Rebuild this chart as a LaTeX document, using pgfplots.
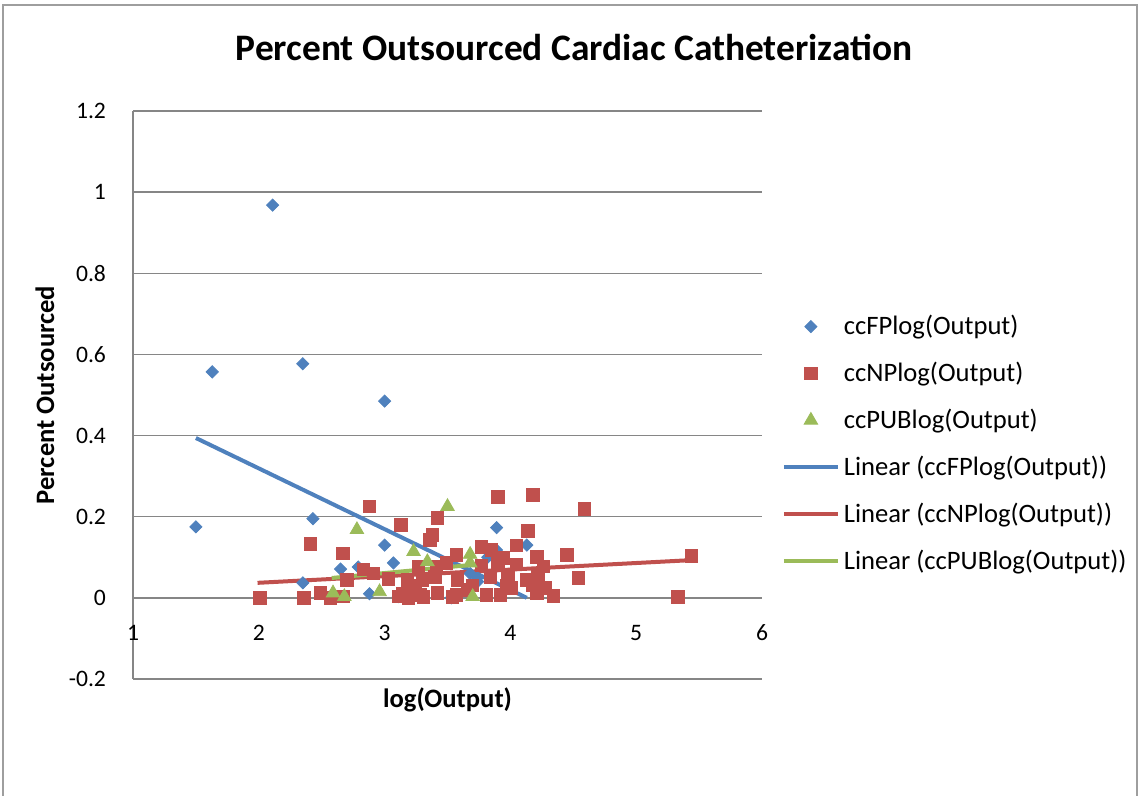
\documentclass[border=0pt]{standalone}
\usepackage{fontspec}
\setmainfont{Carlito}
\usepackage{pgfplots}
\pgfplotsset{compat=1.18}
\definecolor{fpblue}{HTML}{4F81BD}
\definecolor{npred}{HTML}{C0504D}
\definecolor{pubgreen}{HTML}{9BBB59}
\definecolor{gridgray}{HTML}{868686}
\begin{document}
\begin{tikzpicture}
\useasboundingbox (0,0) rectangle (570pt,398pt);
\draw[gridgray!80, line width=0.6pt] (1.5pt,-5pt) -- (1.5pt,395.5pt) -- (568.5pt,395.5pt) -- (568.5pt,-5pt);
\node[font=\fontsize{18.7}{22}\selectfont\bfseries] at (287pt,374pt) {Percent Outsourced Cardiac Catheterization};
\begin{axis}[
  at={(66.5pt,58.5pt)}, anchor=south west, scale only axis,
  width=314.5pt, height=284pt,
  xmin=1, xmax=6, ymin=-0.2, ymax=1.2,
  axis x line=middle, axis y line=left,
  hide obscured x ticks=false, hide obscured y ticks=false,
  axis line style={-, draw=gridgray, line width=0.75pt},
  major tick length=0pt,
  xtick={1,2,3,4,5,6}, xticklabels={1,2,3,4,5,6},
  ytick={-0.2,0,0.2,0.4,0.6,0.8,1,1.2},
  yticklabels={-0.2,0,0.2,0.4,0.6,0.8,1,1.2},
  ymajorgrids, grid style={draw=gridgray, line width=0.75pt},
  tick label style={font=\fontsize{11.8}{13}\selectfont},
  xticklabel style={anchor=north, yshift=-10pt},
  yticklabel style={anchor=east, xshift=-10pt},
  xlabel={log(Output)}, ylabel={Percent Outsourced},
  every axis x label/.style={at={(axis description cs:0.5,-0.037)}, anchor=center, font=\fontsize{13.3}{15}\selectfont\bfseries},
  every axis y label/.style={at={(axis description cs:-0.14,0.5)}, rotate=90, anchor=center, font=\fontsize{13.3}{15}\selectfont\bfseries},
  legend style={at={(axis description cs:1.031,0.648)}, anchor=north west, draw=none, fill=none,
    font=\fontsize{13.3}{15}\selectfont, row sep=8.2pt, inner sep=0pt},
  legend cell align=left,
  legend image code/.code={\draw[mark repeat=2,mark phase=2,#1] plot coordinates {(0pt,0pt) (13.5pt,0pt) (27pt,0pt)};},
  clip=false,
]
% scatter series
\addplot[only marks, mark=square*, mark size=2.15pt, mark options={rotate=45, fill=fpblue, draw=fpblue}] coordinates {
 (1.50,0.175) (1.63,0.557) (2.11,0.968) (2.35,0.577) (3.00,0.485) (2.43,0.195)
 (3.00,0.130) (2.35,0.037) (2.65,0.071) (2.79,0.076) (3.07,0.086) (2.88,0.010)
 (3.11,0.003) (3.89,0.173) (4.13,0.130) (3.89,0.118) (3.82,0.100) (3.74,0.050)
 (3.68,0.060) (3.53,0.000) (3.74,0.040)
};
\addlegendentry{ccFPlog(Output)}
\addplot[only marks, mark=square*, mark size=3.1pt, mark options={fill=npred, draw=npred}] coordinates {
 (2.01,0.000) (2.36,0.000) (2.41,0.133) (2.67,0.110) (2.88,0.226) (2.49,0.012)
 (2.57,0.000) (2.67,0.003) (2.83,0.070) (2.70,0.044) (2.91,0.060) (3.03,0.047)
 (3.11,0.003) (3.13,0.180) (3.42,0.197) (3.90,0.249) (4.18,0.254) (4.14,0.165)
 (3.36,0.143) (3.38,0.155) (3.57,0.106) (3.77,0.126) (3.85,0.118) (3.94,0.098)
 (4.05,0.130) (4.21,0.101) (4.26,0.077) (4.05,0.082) (3.27,0.077) (3.41,0.077)
 (3.49,0.086) (3.18,0.044) (3.30,0.044) (3.40,0.052) (3.58,0.044) (3.84,0.052)
 (3.98,0.052) (4.13,0.044) (3.18,0.012) (3.28,0.007) (3.42,0.012) (3.57,0.007)
 (3.81,0.007) (3.92,0.007) (4.21,0.012) (3.19,0.000) (3.31,0.002) (3.54,0.002)
 (4.01,0.025) (4.18,0.032) (4.59,0.219) (4.45,0.106) (5.44,0.103) (4.54,0.049)
 (5.33,0.002) (4.34,0.005) (4.22,0.057) (4.28,0.025) (3.14,0.010) (3.24,0.030)
 (3.70,0.030) (3.66,0.020) (3.97,0.030) (3.77,0.080) (3.90,0.085)
};
\addlegendentry{ccNPlog(Output)}
\addplot[only marks, mark=triangle*, mark size=3.9pt, mark options={fill=pubgreen, draw=pubgreen}] coordinates {
 (2.59,0.012) (2.68,0.003) (2.78,0.168) (2.96,0.015) (3.50,0.225) (3.23,0.114)
 (3.34,0.089) (3.68,0.107) (3.70,0.003) (3.68,0.086)
};
\addlegendentry{ccPUBlog(Output)}
% linear trend lines
\addplot[fpblue, line width=2pt, no marks] coordinates {(1.50,0.394) (4.13,0.000)};
\addlegendentry{Linear (ccFPlog(Output))}
\addplot[npred, line width=2pt, no marks] coordinates {(1.99,0.037) (5.44,0.093)};
\addlegendentry{Linear (ccNPlog(Output))}
\addplot[pubgreen, line width=2pt, no marks] coordinates {(2.58,0.049) (3.72,0.082)};
\addlegendentry{Linear (ccPUBlog(Output))}
\end{axis}
\end{tikzpicture}
\end{document}
